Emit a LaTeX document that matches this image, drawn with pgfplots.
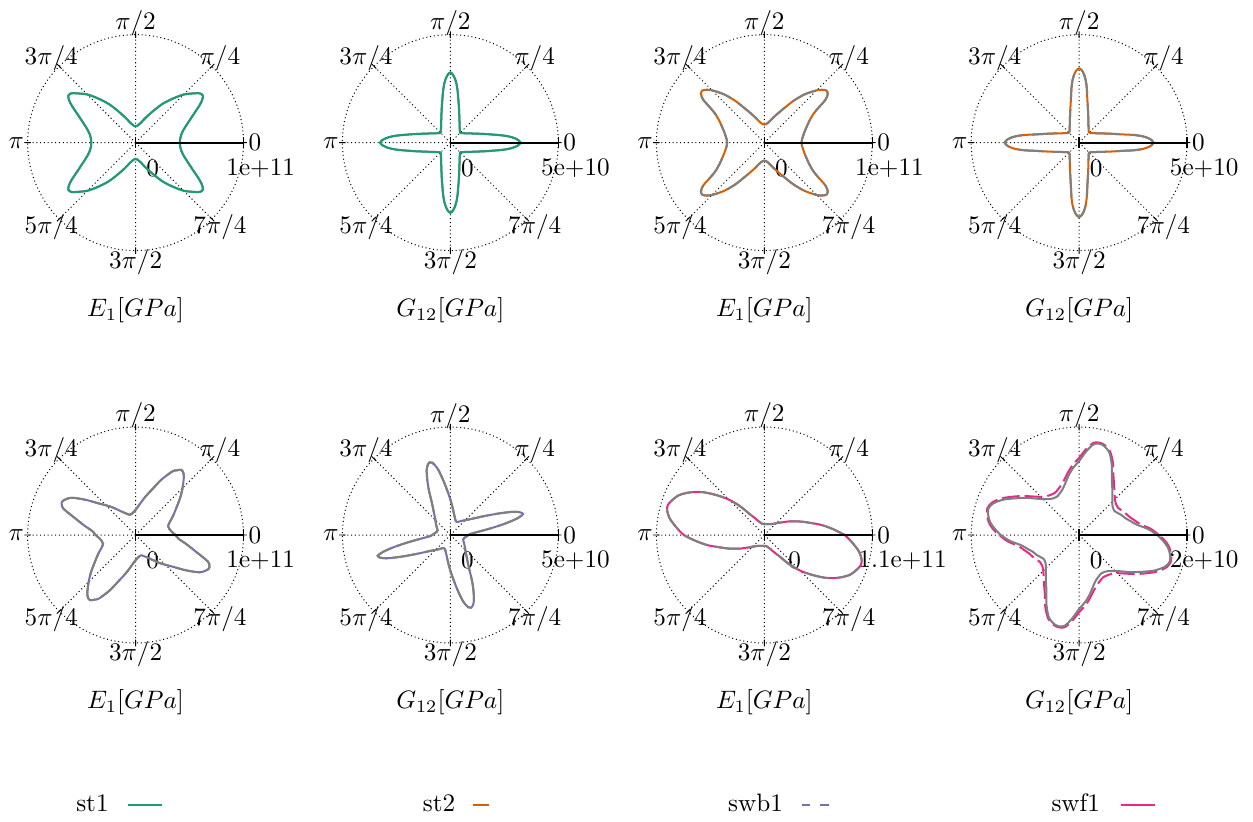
\documentclass[border=0pt]{standalone}
\usepackage{pgfplots}
\pgfplotsset{compat=1.18}
\usepackage{pgfplotstable}
\usepgfplotslibrary{polar}

\definecolor{stone}{HTML}{1B9E77}
\definecolor{sttwo}{HTML}{D95F02}
\definecolor{swbone}{HTML}{7570B3}
\definecolor{swfone}{HTML}{E7298A}
\definecolor{refgray}{HTML}{7F7F7F}

% directional moduli: angle [deg], modulus [GPa]
\pgfplotstableread{
a r
0 41
5 41.5
10 43
15 46
20 51
25 58
30 68
32.5 73
35 76
37.5 75
40 71
45 63
50 53
55 44
60 35
65 28
70 23
75 19
80 17
85 15.5
90 15.3
95 15.5
100 17
105 19
110 23
115 28
120 35
125 44
130 53
135 63
140 71
142.5 75
145 76
147.5 73
150 68
155 58
160 51
165 46
170 43
175 41.5
180 41
185 41.5
190 43
195 46
200 51
205 58
210 68
212.5 73
215 76
217.5 75
220 71
225 63
230 53
235 44
240 35
245 28
250 23
255 19
260 17
265 15.5
270 15.3
275 15.5
280 17
285 19
290 23
295 28
300 35
305 44
310 53
315 63
320 71
322.5 75
325 76
327.5 73
330 68
335 58
340 51
345 46
350 43
355 41.5
360 41
}\EOne

\pgfplotstableread{
a r
0 32.5
2 31.6
4 29.8
6 27.3
8 24.2
10 21.0
12.5 18.0
15 15.6
17.5 13.7
20 12.2
25 10.1
30 8.6
35 7.6
40 6.8
45 6.5
50 6.8
55 7.6
60 8.6
65 10.1
70 12.2
72.5 13.7
75 15.6
77.5 18.0
80 21.0
82 24.2
84 27.3
86 29.8
88 31.6
90 32.5
92 31.6
94 29.8
96 27.3
98 24.2
100 21.0
102.5 18.0
105 15.6
107.5 13.7
110 12.2
115 10.1
120 8.6
125 7.6
130 6.8
135 6.5
140 6.8
145 7.6
150 8.6
155 10.1
160 12.2
162.5 13.7
165 15.6
167.5 18.0
170 21.0
172 24.2
174 27.3
176 29.8
178 31.6
180 32.5
182 31.6
184 29.8
186 27.3
188 24.2
190 21.0
192.5 18.0
195 15.6
197.5 13.7
200 12.2
205 10.1
210 8.6
215 7.6
220 6.8
225 6.5
230 6.8
235 7.6
240 8.6
245 10.1
250 12.2
252.5 13.7
255 15.6
257.5 18.0
260 21.0
262 24.2
264 27.3
266 29.8
268 31.6
270 32.5
272 31.6
274 29.8
276 27.3
278 24.2
280 21.0
282.5 18.0
285 15.6
287.5 13.7
290 12.2
295 10.1
300 8.6
305 7.6
310 6.8
315 6.5
320 6.8
325 7.6
330 8.6
335 10.1
340 12.2
342.5 13.7
345 15.6
347.5 18.0
350 21.0
352 24.2
354 27.3
356 29.8
358 31.6
360 32.5
}\GOne

\pgfplotstableread{
a r
0 34.5
5 35
10 36.5
15 38.5
20 41.5
25 45.5
30 52
32.5 58.5
35 69
37.5 74
40 75
42.5 72.5
45 68.5
50 58.5
55 47.5
60 37
65 30
70 25
75 21
80 18.5
85 17.2
90 16.7
95 17.2
100 18.5
105 21
110 25
115 30
120 37
125 47.5
130 58.5
135 68.5
137.5 72.5
140 75
142.5 74
145 69
147.5 58.5
150 52
155 45.5
160 41.5
165 38.5
170 36.5
175 35
180 34.5
185 35
190 36.5
195 38.5
200 41.5
205 45.5
210 52
212.5 58.5
215 69
217.5 74
220 75
222.5 72.5
225 68.5
230 58.5
235 47.5
240 37
245 30
250 25
255 21
260 18.5
265 17.2
270 16.7
275 17.2
280 18.5
285 21
290 25
295 30
300 37
305 47.5
310 58.5
315 68.5
317.5 72.5
320 75
322.5 74
325 69
327.5 58.5
330 52
335 45.5
340 41.5
345 38.5
350 36.5
355 35
360 34.5
}\ETwo

\pgfplotstableread{
a r
0 34.4
2 33.6
4 31.8
6 29.1
8 25.5
10 21.6
12.5 18.2
15 15.8
17.5 13.9
20 12.4
25 10.1
30 8.7
35 7.6
40 6.9
45 6.6
50 6.9
55 7.6
60 8.7
65 10.1
70 12.4
72.5 13.9
75 15.8
77.5 18.2
80 21.6
82 25.5
84 29.1
86 31.8
88 33.6
90 34.4
92 33.6
94 31.8
96 29.1
98 25.5
100 21.6
102.5 18.2
105 15.8
107.5 13.9
110 12.4
115 10.1
120 8.7
125 7.6
130 6.9
135 6.6
140 6.9
145 7.6
150 8.7
155 10.1
160 12.4
162.5 13.9
165 15.8
167.5 18.2
170 21.6
172 25.5
174 29.1
176 31.8
178 33.6
180 34.4
182 33.6
184 31.8
186 29.1
188 25.5
190 21.6
192.5 18.2
195 15.8
197.5 13.9
200 12.4
205 10.1
210 8.7
215 7.6
220 6.9
225 6.6
230 6.9
235 7.6
240 8.7
245 10.1
250 12.4
252.5 13.9
255 15.8
257.5 18.2
260 21.6
262 25.5
264 29.1
266 31.8
268 33.6
270 34.4
272 33.6
274 31.8
276 29.1
278 25.5
280 21.6
282.5 18.2
285 15.8
287.5 13.9
290 12.4
295 10.1
300 8.7
305 7.6
310 6.9
315 6.6
320 6.9
325 7.6
330 8.7
335 10.1
340 12.4
342.5 13.9
345 15.8
347.5 18.2
350 21.6
352 25.5
354 29.1
356 31.8
358 33.6
360 34.4
}\GTwo

\pgfplotstableread{
a r
0 37
5 33.7
10 31.8
15 31.2
20 33.3
25 37.2
30 41.6
35 47
40 54
45 61.5
50 69.5
52.5 72.6
55 73.7
57.5 71
60 68
65 56.5
70 45
75 37.5
80 31.2
85 26.5
90 23.3
95 21.3
100 20
105 19.4
110 20.5
115 22.3
120 24.8
125 28.5
130 33.5
135 39
140 46
145 57
150 69
155 74.5
157.5 74
160 71
165 57
170 47.5
175 40
180 37
185 33.7
190 31.8
195 31.2
200 33.3
205 37.2
210 41.6
215 47
220 54
225 61.5
230 69.5
232.5 72.6
235 73.7
237.5 71
240 68
245 56.5
250 45
255 37.5
260 31.2
265 26.5
270 23.3
275 21.3
280 20
285 19.4
290 20.5
295 22.3
300 24.8
305 28.5
310 33.5
315 39
320 46
325 57
330 69
335 74.5
337.5 74
340 71
345 57
350 47.5
355 40
360 37
}\EThree

\pgfplotstableread{
a r
0 8.4
3 9.3
6 12
8 15.5
10 20.5
12 26.5
14 32
16 35
18 34
20 31.5
22.5 27
25 23
27.5 19.7
30 17.2
35 13.5
40 11.2
45 9.8
50 8.7
55 7.7
60 7.0
65 6.8
70 7.1
75 8.2
80 9.8
85 12.5
90 16.5
95 22
98 26.5
101 31.5
104 34.5
106 35
108 34
110 32
112.5 28
115 24
117.5 20
120 17
125 13.5
130 11.3
135 9.8
140 8.8
145 8
150 7.3
155 6.7
160 6.3
165 6.4
170 6.8
175 7.5
180 8.4
183 9.3
186 12
188 15.5
190 20.5
192 26.5
194 32
196 35
198 34
200 31.5
202.5 27
205 23
207.5 19.7
210 17.2
215 13.5
220 11.2
225 9.8
230 8.7
235 7.7
240 7.0
245 6.8
250 7.1
255 8.2
260 9.8
265 12.5
270 16.5
275 22
278 26.5
281 31.5
284 34.5
286 35
288 34
290 32
292.5 28
295 24
297.5 20
300 17
305 13.5
310 11.3
315 9.8
320 8.8
325 8
330 7.3
335 6.7
340 6.3
345 6.4
350 6.8
355 7.5
360 8.4
}\GThree

\pgfplotstableread{
a r
0 82
5 70
10 59
15 48
20 40
25 33
30 27.5
35 22.5
40 19.5
50 15
60 12.8
70 11.8
80 11.2
90 11
100 11.5
110 14
115 16.5
120 20.5
125 26
130 38
135 51
140 63
145 76
150 87
155 96
160 101
163 103
166 102
170 98
175 90
180 82
185 70
190 59
195 48
200 40
205 33
210 27.5
215 22.5
220 19.5
230 15
240 12.8
250 11.8
260 11.2
270 11
280 11.5
290 14
295 16.5
300 20.5
305 26
310 38
315 51
320 63
325 76
330 87
335 96
340 101
343 103
346 102
350 98
355 90
360 82
}\EFour

\pgfplotstableread{
a r
0 14.5
5 12.8
10 10.9
15 9.9
20 9.1
25 8.7
30 8.2
35 7.9
40 8.1
45 8.7
50 9.6
55 10.7
60 12.1
65 14.3
70 16.3
75 17.2
78 17.3
81 17
85 15.6
90 13.7
95 12.5
100 11.2
105 9.9
110 9.0
115 8.5
120 8.2
125 8.3
130 8.7
135 9.4
140 10.5
145 12
150 13.6
155 15.5
160 17.0
164 17.5
168 17.2
172 16.6
176 15.6
180 14.5
185 12.8
190 10.9
195 9.9
200 9.1
205 8.7
210 8.2
215 7.9
220 8.1
225 8.7
230 9.6
235 10.7
240 12.1
245 14.3
250 16.3
255 17.2
258 17.3
261 17
265 15.6
270 13.7
275 12.5
280 11.2
285 9.9
290 9.0
295 8.5
300 8.2
305 8.3
310 8.7
315 9.4
320 10.5
325 12
330 13.6
335 15.5
340 17.0
344 17.5
348 17.2
352 16.6
356 15.6
360 14.5
}\GFour

\pgfplotstableread{
a r
0 14.8
5 13.3
10 11.5
15 10.6
20 9.9
25 9.5
30 9.1
35 8.8
40 8.9
45 9.4
50 10.2
55 11.3
60 12.7
65 14.8
70 16.6
75 17.4
78 17.5
81 17.3
85 16.1
90 14.3
95 13.1
100 11.8
105 10.6
110 9.8
115 9.3
120 9.0
125 9.1
130 9.4
135 10.0
140 11.1
145 12.6
150 14.2
155 16.0
160 17.3
164 17.7
168 17.4
172 16.9
176 16.0
180 14.8
185 13.3
190 11.5
195 10.6
200 9.9
205 9.5
210 9.1
215 8.8
220 8.9
225 9.4
230 10.2
235 11.3
240 12.7
245 14.8
250 16.6
255 17.4
258 17.5
261 17.3
265 16.1
270 14.3
275 13.1
280 11.8
285 10.6
290 9.8
295 9.3
300 9.0
305 9.1
310 9.4
315 10.0
320 11.1
325 12.6
330 14.2
335 16.0
340 17.3
344 17.7
348 17.4
352 16.9
356 16.0
360 14.8
}\GFourSwf

\pgfplotsset{
  dir/.style={
    scale only axis, width=85.7pt, height=85.7pt,
    anchor=center, clip=false,
    xmin=0, xmax=360, ymin=0,
    xtick={0,45,...,315}, xticklabels={},
    grid=none, xmajorgrids=true,
    major grid style={black, line width=0.4pt, dash pattern=on 0.4pt off 1.1pt},
    axis line style={black, line width=0.4pt, dash pattern=on 0.4pt off 1.1pt},
    tick align=center, major tick length=4.5pt,
    tick style={black, solid, line width=0.5pt},
    xtick style={line width=0.35pt, /pgfplots/major tick length=2.6pt},
    xtick pos=right, ytick pos=left,
    yticklabel style={anchor=center, yshift=-12.3pt},
    radial label shift/.style={yticklabel style={xshift=##1}},
    radial label shift=6.8pt,
  },
  model/.style={line width=0.8pt, smooth},
}

% radial axis line and angle labels; #1 = outer radius, #2 = label radius
\newcommand\polarframe[2]{%
  \draw[black, line width=0.8pt] (axis cs:0,0) -- (axis cs:0,#1);
  \node at (axis cs:0,#2)   {$0$};
  \node at (axis cs:45,#2)  {$\pi/4$};
  \node at (axis cs:90,#2)  {$\pi/2$};
  \node at (axis cs:135,#2) {$3\pi/4$};
  \node at (axis cs:180,#2) {$\pi$};
  \node at (axis cs:225,#2) {$5\pi/4$};
  \node at (axis cs:270,#2) {$3\pi/2$};
  \node at (axis cs:315,#2) {$7\pi/4$};
}

\begin{document}
\begin{tikzpicture}
\path[use as bounding box] (0pt,0pt) rectangle (497.2pt,-325.8pt);

% ---- st1 ----
\begin{polaraxis}[dir, at={(53.8pt,-56.6pt)}, ymax=100, ytick={0,100}, yticklabels={0,1e+11}]
  \addplot[refgray, model] table {\EOne};
  \addplot[stone, model] table {\EOne};
  \polarframe{100}{110.5}
\end{polaraxis}
\node at (53.8pt,-123pt) {$E_1[GPa]$};

\begin{polaraxis}[dir, at={(178.7pt,-56.6pt)}, ymax=50, ytick={0,50}, yticklabels={0,5e+10}]
  \addplot[refgray, model] table {\GOne};
  \addplot[stone, model] table {\GOne};
  \polarframe{50}{55.25}
\end{polaraxis}
\node at (178.7pt,-123pt) {$G_{12}[GPa]$};

% ---- st2 ----
\begin{polaraxis}[dir, at={(303.3pt,-56.6pt)}, ymax=100, ytick={0,100}, yticklabels={0,1e+11}]
  \addplot[sttwo, model] table {\ETwo};
  \addplot[refgray, model, dash pattern=on 10pt off 4pt] table {\ETwo};
  \polarframe{100}{110.5}
\end{polaraxis}
\node at (303.3pt,-123pt) {$E_1[GPa]$};

\begin{polaraxis}[dir, at={(428.2pt,-56.6pt)}, ymax=50, ytick={0,50}, yticklabels={0,5e+10}]
  \addplot[sttwo, model] table {\GTwo};
  \addplot[refgray, model, dash pattern=on 10pt off 4pt] table {\GTwo};
  \polarframe{50}{55.25}
\end{polaraxis}
\node at (428.2pt,-123pt) {$G_{12}[GPa]$};

% ---- swb1 ----
\begin{polaraxis}[dir, at={(53.8pt,-212.3pt)}, ymax=100, ytick={0,100}, yticklabels={0,1e+11}]
  \addplot[swbone, model] table {\EThree};
  \addplot[refgray, model, dash pattern=on 10pt off 2.5pt] table {\EThree};
  \polarframe{100}{110.5}
\end{polaraxis}
\node at (53.8pt,-278.6pt) {$E_1[GPa]$};

\begin{polaraxis}[dir, at={(178.7pt,-212.3pt)}, ymax=50, ytick={0,50}, yticklabels={0,5e+10}]
  \addplot[swbone, model] table {\GThree};
  \addplot[refgray, model, dash pattern=on 10pt off 2.5pt] table {\GThree};
  \polarframe{50}{55.25}
\end{polaraxis}
\node at (178.7pt,-278.6pt) {$G_{12}[GPa]$};

% ---- swf1 ----
\begin{polaraxis}[dir, at={(303.3pt,-212.3pt)}, ymax=110, ytick={0,110}, yticklabels={0,1.1e+11},
    yticklabel style={xshift=5.2pt}]
  \addplot[swfone, model] table {\EFour};
  \addplot[refgray, model, dash pattern=on 10pt off 3pt] table {\EFour};
  \polarframe{110}{121.55}
\end{polaraxis}
\node at (303.3pt,-278.6pt) {$E_1[GPa]$};

\begin{polaraxis}[dir, at={(428.2pt,-212.3pt)}, ymax=20, ytick={0,20}, yticklabels={0,2e+10}]
  \addplot[swfone, model, dash pattern=on 7pt off 2pt] table {\GFourSwf};
  \addplot[refgray, model] table {\GFour};
  \polarframe{20}{22.1}
\end{polaraxis}
\node at (428.2pt,-278.6pt) {$G_{12}[GPa]$};

% ---- legend ----
\begin{axis}[hide axis, scale only axis, width=497.2pt, height=2pt,
    at={(0pt,-319.4pt)}, anchor=west,
    xmin=0, xmax=1, ymin=0, ymax=1,
    legend columns=4, legend plot pos=right,
    legend image code/.code={\draw[#1] (0pt,0pt) -- (13.5pt,0pt);},
    legend style={draw=none, fill=none, inner sep=0pt,
      at={(0.0605,0.5)}, anchor=west,
      nodes={inner sep=0pt},
      /tikz/column 1/.style={column sep=7.1pt},
      /tikz/column 2/.style={column sep=103.3pt},
      /tikz/column 3/.style={column sep=6.5pt},
      /tikz/column 4/.style={column sep=87.5pt},
      /tikz/column 5/.style={column sep=7.1pt},
      /tikz/column 6/.style={column sep=85.2pt},
      /tikz/column 7/.style={column sep=7.9pt}}]
  \addlegendimage{stone, line width=0.8pt}
  \addlegendentry{st1}
  \addlegendimage{sttwo, line width=0.8pt, dash pattern=on 6.3pt off 10pt}
  \addlegendentry{st2}
  \addlegendimage{swbone, line width=0.8pt, dash pattern=on 3.3pt off 4pt}
  \addlegendentry{swb1}
  \addlegendimage{swfone, line width=0.8pt}
  \addlegendentry{swf1}
\end{axis}
\end{tikzpicture}
\end{document}
